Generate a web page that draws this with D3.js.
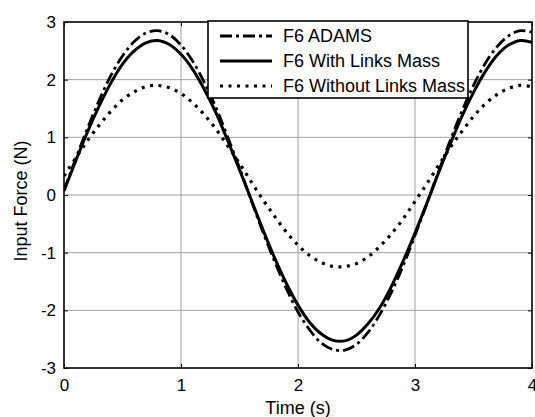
<!DOCTYPE html>
<html>
<head>
<meta charset="utf-8">
<script src="https://cdn.jsdelivr.net/npm/d3@7"></script>
<style>
  body { margin: 0; background: #fff; }
  svg { display: block; font-family: 'Liberation Sans', Arial, sans-serif; }
  .grid line { stroke: #a0a0a0; stroke-width: 1; }
</style>
</head>
<body>
<div id="chart"></div>
<script>
// time samples (s)
const time = d3.range(0, 41).map(i => +(i * 0.1).toFixed(1))

// F6 input force (N), every 0.1 s
const adams = [0.08, 0.63, 1.15, 1.64, 2.07, 2.41, 2.66, 2.81, 2.85, 2.78,
  2.60, 2.32, 1.95, 1.51, 1.00, 0.47, -0.09, -0.64, -1.15, -1.62,
  -2.03, -2.34, -2.57, -2.68, -2.69, -2.59, -2.38, -2.07, -1.68, -1.22,
  -0.70, -0.16, 0.40, 0.94, 1.45, 1.90, 2.28, 2.57, 2.76, 2.85, 2.82]
const withMass = [0.07, 0.59, 1.09, 1.54, 1.94, 2.27, 2.50, 2.64, 2.68, 2.61,
  2.44, 2.18, 1.83, 1.42, 0.94, 0.44, -0.08, -0.60, -1.09, -1.53,
  -1.91, -2.21, -2.41, -2.52, -2.53, -2.43, -2.23, -1.95, -1.58, -1.14,
  -0.66, -0.15, 0.38, 0.88, 1.36, 1.78, 2.14, 2.42, 2.60, 2.68, 2.65]
const withoutMass = [0.33, 0.64, 0.94, 1.21, 1.45, 1.65, 1.79, 1.88, 1.90, 1.86,
  1.76, 1.60, 1.39, 1.14, 0.85, 0.55, 0.23, -0.08, -0.37, -0.64,
  -0.87, -1.05, -1.17, -1.24, -1.24, -1.19, -1.07, -0.89, -0.67, -0.41,
  -0.11, 0.19, 0.51, 0.82, 1.10, 1.36, 1.58, 1.74, 1.85, 1.90, 1.88]

const xTicks = [0, 1, 2, 3, 4]
const yTicks = [-3, -2, -1, 0, 1, 2, 3]

const series = [
  { name: 'F6 ADAMS', values: adams, dash: '12,4,3,4', width: 2.8 },
  { name: 'F6 With Links Mass', values: withMass, dash: null, width: 3 },
  { name: 'F6 Without Links Mass', values: withoutMass, dash: '3,5.5', width: 3.2 }
]

const W = 535, H = 417
const margin = { top: 22, right: 3, bottom: 49, left: 64 }

const svg = d3.select('#chart').append('svg')
  .attr('width', W)
  .attr('height', H)

const x = d3.scaleLinear().domain([0, 4]).range([margin.left, W - margin.right])
const y = d3.scaleLinear().domain([-3, 3]).range([H - margin.bottom, margin.top])

// grid
const grid = svg.append('g').attr('class', 'grid')
grid.selectAll('.gx').data(xTicks.slice(1, -1)).enter().append('line')
  .attr('x1', d => x(d)).attr('x2', d => x(d))
  .attr('y1', y(3)).attr('y2', y(-3))
grid.selectAll('.gy').data(yTicks.slice(1, -1)).enter().append('line')
  .attr('x1', x(0)).attr('x2', x(4))
  .attr('y1', d => y(d)).attr('y2', d => y(d))

// axes, ticks point inward
const gx = svg.append('g')
  .attr('transform', `translate(0,${y(-3)})`)
  .call(d3.axisBottom(x).tickValues(xTicks).tickSizeInner(-4).tickSizeOuter(0).tickPadding(11)
    .tickFormat(d3.format('d')))
const gy = svg.append('g')
  .attr('transform', `translate(${x(0)},0)`)
  .call(d3.axisLeft(y).tickValues(yTicks).tickSizeInner(-4).tickSizeOuter(0).tickPadding(8)
    .tickFormat(d => d < 0 ? '-' + Math.abs(d) : d))
svg.append('g')
  .attr('transform', `translate(0,${y(3)})`)
  .call(d3.axisTop(x).tickValues(xTicks).tickSizeInner(-4).tickSizeOuter(0).tickFormat(''))
svg.append('g')
  .attr('transform', `translate(${x(4)},0)`)
  .call(d3.axisRight(y).tickValues(yTicks).tickSizeInner(-4).tickSizeOuter(0).tickFormat(''))

svg.selectAll('.domain').remove()
svg.selectAll('.tick line').attr('stroke', '#000').attr('stroke-width', 1)
gx.selectAll('text').style('font-size', '17px').attr('fill', '#000')
gy.selectAll('text').style('font-size', '17px').attr('fill', '#000')

// lines
svg.append('clipPath').attr('id', 'plot-clip')
  .append('rect')
  .attr('x', x(0)).attr('y', y(3))
  .attr('width', x(4) - x(0)).attr('height', y(-3) - y(3))

const line = d3.line()
  .x((d, i) => x(time[i]))
  .y(d => y(d))
  .curve(d3.curveCatmullRom)

svg.append('g').attr('clip-path', 'url(#plot-clip)')
  .selectAll('path')
  .data(series)
  .enter()
  .append('path')
  .attr('d', d => line(d.values))
  .attr('fill', 'none')
  .attr('stroke', '#000')
  .attr('stroke-width', d => d.width)
  .attr('stroke-dasharray', d => d.dash)

// axes box
svg.append('rect')
  .attr('x', x(0)).attr('y', y(3))
  .attr('width', x(4) - x(0)).attr('height', y(-3) - y(3))
  .attr('fill', 'none')
  .attr('stroke', '#000')
  .attr('stroke-width', 1.6)

// axis labels
svg.append('text')
  .attr('x', (x(0) + x(4)) / 2)
  .attr('y', 414)
  .attr('text-anchor', 'middle')
  .style('font-size', '18px')
  .text('Time (s)')
svg.append('text')
  .attr('transform', `translate(27,${(y(3) + y(-3)) / 2 + 6}) rotate(-90)`)
  .attr('text-anchor', 'middle')
  .style('font-size', '18px')
  .text('Input Force (N)')

// legend
const legend = svg.append('g').attr('transform', 'translate(208,21)')
legend.append('rect')
  .attr('width', 260).attr('height', 77)
  .attr('fill', '#fff')
  .attr('stroke', '#000')
  .attr('stroke-width', 1.6)
const item = legend.selectAll('.legend-item')
  .data(series)
  .enter()
  .append('g')
  .attr('class', 'legend-item')
  .attr('transform', (d, i) => `translate(0,${15 + i * 25})`)
item.append('line')
  .attr('x1', 12).attr('x2', 64)
  .attr('stroke', '#000')
  .attr('stroke-width', d => d.width)
  .attr('stroke-dasharray', d => d.dash)
item.append('text')
  .attr('x', 75)
  .attr('y', 6)
  .style('font-size', '18px')
  .text(d => d.name)
</script>
</body>
</html>
